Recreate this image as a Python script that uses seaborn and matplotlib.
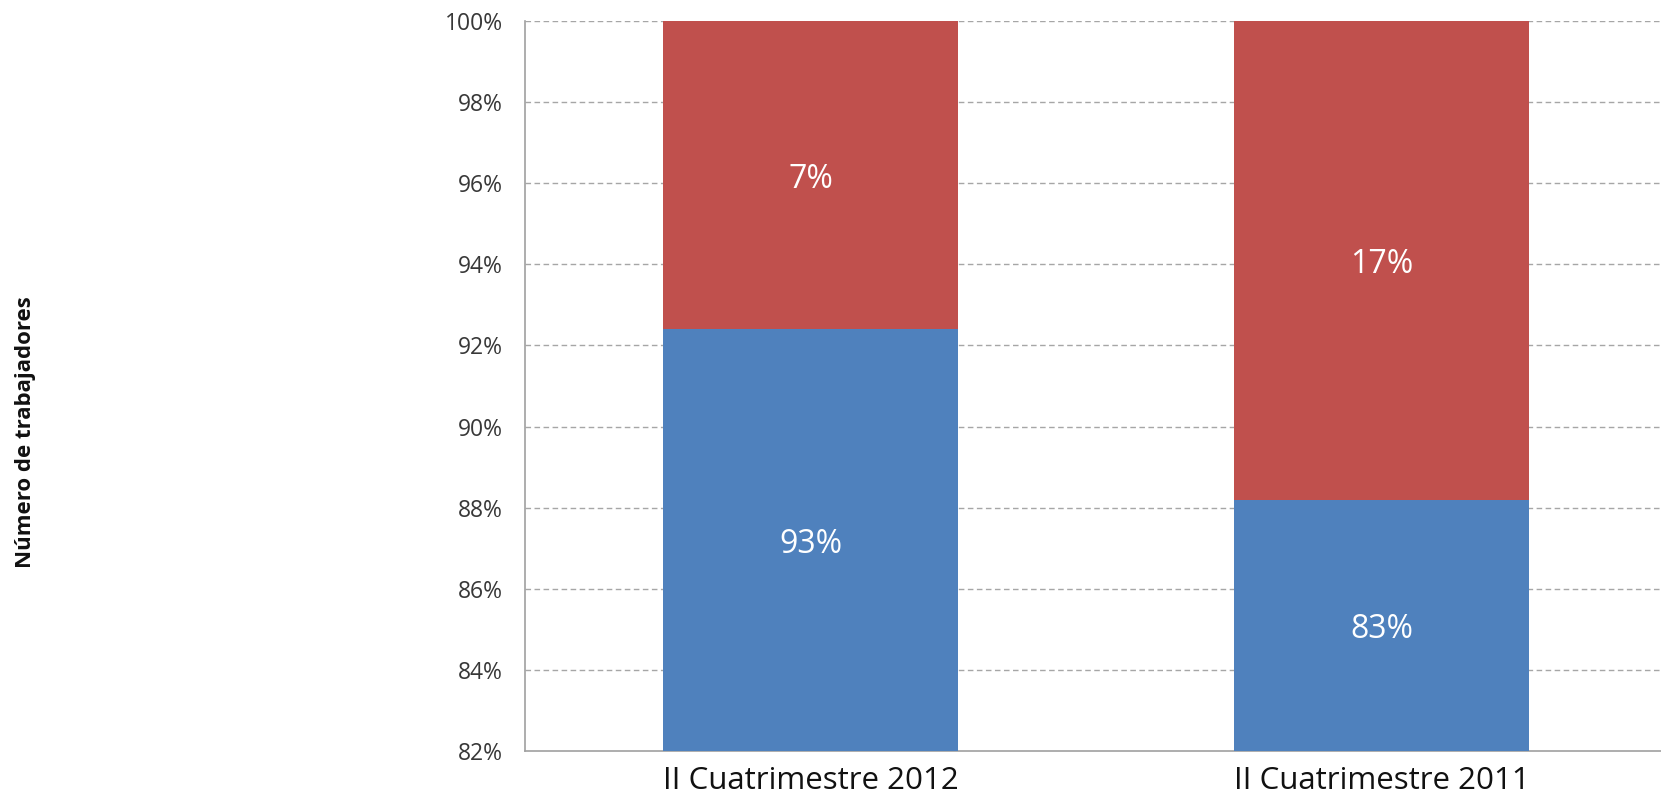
import matplotlib
matplotlib.use("Agg")
import matplotlib.pyplot as plt
import seaborn as sns
import pandas as pd
import numpy as np

categories = ["II Cuatrimestre 2012", "II Cuatrimestre 2011"]
blue_values = [92.4, 88.2]          # top of the blue segment (%)
total_values = [100.0, 100.0]       # top of the red segment (%)
blue_labels = ["93%", "83%"]
red_labels = ["7%", "17%"]
y_ticks = [82, 84, 86, 88, 90, 92, 94, 96, 98, 100]
y_label = "Número de trabajadores"

sns.set_theme(style="white")
plt.rcParams['font.family'] = ['Open Sans', 'DejaVu Sans']

BLUE = "#4F81BD"
RED = "#C0504D"
GRID = "#A6A6A6"
AXC = "#A0A0A0"

fig = plt.figure(figsize=(16.61, 7.93), dpi=100)
ax = fig.add_axes([525/1661, 42/793, 1142/1661, 730/793])

df = pd.DataFrame({"cat": categories, "blue": blue_values, "total": total_values})
sns.barplot(data=df, x="cat", y="total", color=RED, saturation=1, width=0.515,
            ax=ax, zorder=2, linewidth=0, edgecolor="none")
sns.barplot(data=df, x="cat", y="blue", color=BLUE, saturation=1, width=0.515,
            ax=ax, zorder=3, linewidth=0, edgecolor="none")

ymin, ymax = 82, 100
ax.set_ylim(ymin, ymax)
ax.set_xlim(-0.5, 1.5)
ax.set_yticks(y_ticks)
ax.set_yticklabels([f"{t}%" for t in y_ticks], fontsize=16.5, color="#383838")
ax.tick_params(axis="y", length=0, pad=16)

for t in y_ticks[1:]:
    ax.axhline(t, color=GRID, lw=1.0, ls=(0, (4, 2.5)), zorder=1)

# category ticks between categories, labels at centers
ax.set_xticks([-0.5, 0.5, 1.5])
ax.set_xticklabels(["", "", ""])
ax.set_xticks([0, 1], minor=True)
ax.set_xticklabels(categories, minor=True, fontsize=22.5, color="#111111")
ax.tick_params(axis="x", which="major", length=32, color=AXC, width=1.2, direction="out")
ax.tick_params(axis="x", which="minor", length=0, pad=11)
ax.set_xlabel("")
ax.set_ylabel("")

for side in ["top", "right"]:
    ax.spines[side].set_visible(False)
for side in ["left", "bottom"]:
    ax.spines[side].set_color(AXC)
    ax.spines[side].set_linewidth(1.2)

for i, (b, tot) in enumerate(zip(blue_values, total_values)):
    ax.annotate(blue_labels[i], (i, (ymin + b) / 2), xytext=(0, -3),
                textcoords="offset points", ha="center", va="center",
                color="white", fontsize=23, zorder=5)
    ax.annotate(red_labels[i], (i, (b + tot) / 2), xytext=(0, -3),
                textcoords="offset points", ha="center", va="center",
                color="white", fontsize=23, zorder=5)

fig.text(26/1661, 1 - 432/793, y_label, rotation=90, ha="center", va="center",
         fontsize=16, fontweight="bold", color="#111111")

fig.savefig("out.png", dpi=100)
